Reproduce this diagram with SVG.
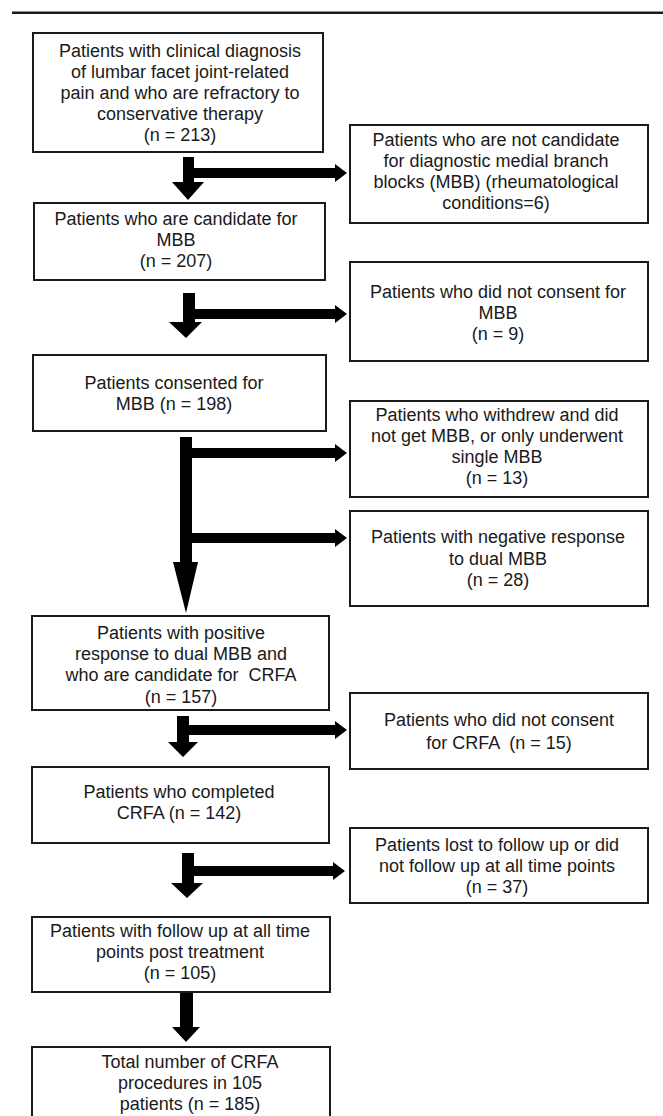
<svg xmlns="http://www.w3.org/2000/svg" width="663" height="1116" viewBox="0 0 663 1116">
<style>
.box{fill:#fff;stroke:#1a1a1a;stroke-width:2}
.t{font-family:"Liberation Sans",Arial,sans-serif;font-size:18px;fill:#1a1a1a;text-anchor:middle}
.arr{fill:#000}
</style>
<rect x="0" y="0" width="663" height="1116" fill="#fff"/>
<rect x="12" y="11.5" width="651" height="2.5" fill="#1a1a1a"/>
<g id="connectors">
  <!-- arrow 1 -->
  <polygon class="arr" points="183,157 194,157 194,182 204,182 188,200 172,182 183,182"/>
  <polygon class="arr" points="194,168 335,168 335,164 347,173 335,182 335,178 194,178"/>
  <!-- arrow 2 -->
  <polygon class="arr" points="183,293 195,293 195,322 202,322 186,338 169,322 183,322"/>
  <polygon class="arr" points="195,309 335,309 335,305 347,314 335,323 335,319 195,319"/>
  <!-- arrow 3 long -->
  <polygon class="arr" points="180,437 192,437 192,562 198,562 186,613 173,562 180,562"/>
  <polygon class="arr" points="192,448 335,448 335,444 347,453 335,462 335,458 192,458"/>
  <polygon class="arr" points="192,533 335,533 335,529 347,538 335,547 335,543 192,543"/>
  <!-- arrow 5 -->
  <polygon class="arr" points="177,716 189,716 189,742 198,742 183,757 168,742 177,742"/>
  <polygon class="arr" points="189,725 335,725 335,721 347,730 335,739 335,735 189,735"/>
  <!-- arrow 6 -->
  <polygon class="arr" points="182,853 194,853 194,883 203,883 187,898 171,883 182,883"/>
  <polygon class="arr" points="194,866 333,866 333,862 345,871 333,880 333,876 194,876"/>
  <!-- arrow 7 -->
  <polygon class="arr" points="180,992 193,992 193,1027 200,1027 186,1042 172,1027 180,1027"/>
</g>
<g id="n1">
  <rect class="box" x="33" y="33" width="290" height="119"/>
  <text class="t" x="180" y="57">Patients with clinical diagnosis</text>
  <text class="t" x="180" y="78">of lumbar facet joint-related</text>
  <text class="t" x="180" y="99">pain and who are refractory to</text>
  <text class="t" x="180" y="120">conservative therapy</text>
  <text class="t" x="180" y="141">(n = 213)</text>
</g>
<g id="n1x">
  <rect class="box" x="350" y="125" width="298" height="98"/>
  <text class="t" x="496" y="146">Patients who are not candidate</text>
  <text class="t" x="496" y="167">for diagnostic medial branch</text>
  <text class="t" x="496" y="188">blocks (MBB) (rheumatological</text>
  <text class="t" x="496" y="209">conditions=6)</text>
</g>
<g id="n2">
  <rect class="box" x="34" y="203" width="291" height="77"/>
  <text class="t" x="176" y="225">Patients who are candidate for</text>
  <text class="t" x="176" y="246">MBB</text>
  <text class="t" x="176" y="267">(n = 207)</text>
</g>
<g id="n2x">
  <rect class="box" x="350" y="262" width="298" height="99"/>
  <text class="t" x="498" y="298">Patients who did not consent for</text>
  <text class="t" x="498" y="319">MBB</text>
  <text class="t" x="498" y="340">(n = 9)</text>
</g>
<g id="n3">
  <rect class="box" x="33" y="355" width="293" height="76"/>
  <text class="t" x="174" y="389">Patients consented for</text>
  <text class="t" x="174" y="410">MBB (n = 198)</text>
</g>
<g id="n3x">
  <rect class="box" x="350" y="401" width="298" height="96"/>
  <text class="t" x="497" y="421">Patients who withdrew and did</text>
  <text class="t" x="497" y="442">not get MBB, or only underwent</text>
  <text class="t" x="497" y="463">single MBB</text>
  <text class="t" x="497" y="484">(n = 13)</text>
</g>
<g id="n4x">
  <rect class="box" x="350" y="511" width="298" height="95"/>
  <text class="t" x="498" y="543">Patients with negative response</text>
  <text class="t" x="498" y="565">to dual MBB</text>
  <text class="t" x="498" y="586">(n = 28)</text>
</g>
<g id="n4">
  <rect class="box" x="32" y="616" width="297" height="94"/>
  <text class="t" x="181" y="639">Patients with positive</text>
  <text class="t" x="181" y="660">response to dual MBB and</text>
  <text class="t" x="181" y="681" xml:space="preserve">who are candidate for  CRFA</text>
  <text class="t" x="181" y="703">(n = 157)</text>
</g>
<g id="n5x">
  <rect class="box" x="350" y="693" width="298" height="76"/>
  <text class="t" x="499" y="726">Patients who did not consent</text>
  <text class="t" x="499" y="749" xml:space="preserve">for CRFA  (n = 15)</text>
</g>
<g id="n5">
  <rect class="box" x="32" y="767" width="297" height="76"/>
  <text class="t" x="179" y="798">Patients who completed</text>
  <text class="t" x="179" y="819">CRFA (n = 142)</text>
</g>
<g id="n6x">
  <rect class="box" x="350" y="828" width="298" height="75"/>
  <text class="t" x="497" y="851">Patients lost to follow up or did</text>
  <text class="t" x="497" y="872">not follow up at all time points</text>
  <text class="t" x="497" y="893">(n = 37)</text>
</g>
<g id="n6">
  <rect class="box" x="32" y="917" width="298" height="75"/>
  <text class="t" x="180" y="937">Patients with follow up at all time</text>
  <text class="t" x="180" y="958">points post treatment</text>
  <text class="t" x="180" y="979">(n = 105)</text>
</g>
<g id="n7">
  <rect class="box" x="32" y="1047" width="298" height="75"/>
  <text class="t" x="190" y="1068">Total number of CRFA</text>
  <text class="t" x="190" y="1089">procedures in 105</text>
  <text class="t" x="190" y="1110">patients (n = 185)</text>
</g>
</svg>
